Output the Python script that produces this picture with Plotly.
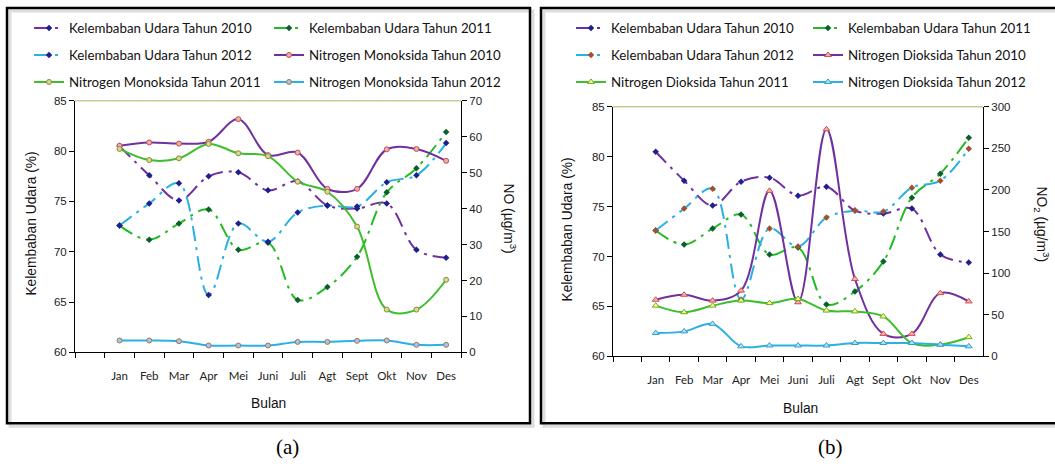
import plotly.graph_objects as go

W, H = 1055, 464

months = ["Jan", "Feb", "Mar", "Apr", "Mei", "Juni", "Juli", "Agt", "Sept", "Okt", "Nov", "Des"]
categories = [" "] + months

# Kelembaban Udara (%)
ku_2010 = [80.5, 77.6, 75.1, 77.5, 77.9, 76.1, 77.0, 74.6, 74.3, 74.8, 70.2, 69.4]
ku_2011 = [72.6, 71.2, 72.8, 74.2, 70.2, 70.9, 65.2, 66.5, 69.5, 75.9, 78.3, 81.9]
ku_2012 = [72.6, 74.8, 76.8, 65.7, 72.8, 71.0, 73.9, 74.6, 74.5, 76.9, 77.6, 80.8]
# NO (ug/m3)
no_2010 = [57.5, 58.4, 58.1, 58.6, 64.9, 54.9, 55.6, 45.5, 45.5, 56.5, 56.6, 53.3]
no_2011 = [56.6, 53.5, 54.0, 58.0, 55.4, 54.6, 47.5, 44.7, 35.0, 11.9, 11.9, 20.2]
no_2012 = [3.3, 3.3, 3.1, 1.9, 1.9, 1.9, 2.9, 2.9, 3.2, 3.3, 2.1, 2.1]
# NO2 (ug/m3)
no2_2010 = [68, 74, 67, 79, 199, 65, 273, 93, 27, 27, 76, 66]
no2_2011 = [61, 53, 61, 67, 64, 69, 55, 54, 48, 16, 14, 23]
no2_2012 = [28, 30, 39, 12, 13, 13, 13, 16, 16, 16, 14, 12]

PURPLE = "#7030A0"
GREEN_D = "#22BB22"
GREEN = "#3DBE2B"
BLUE = "#2BB0E3"

def px(x):
    return x / W

def py(y):
    # vertical layout positions (slightly stretched to match the photographed page)
    yy = (y - 4) / 0.976
    return 1 - yy / H

fig = go.Figure()

def ku_trace(name, y, color, mcolor, xa, ya, legend, group):
    return go.Scatter(
        x=months, y=y, name=name, mode="lines+markers",
        line=dict(color=color, width=2, dash="longdashdot", shape="spline", smoothing=1),
        marker=dict(symbol="diamond", size=5, color=mcolor),
        xaxis=xa, yaxis=ya, legend=legend, legendgroup=group,
    )

def n_trace(name, y, color, msym, mfill, mline, xa, ya, legend, group):
    return go.Scatter(
        x=months, y=y, name=name, mode="lines+markers",
        line=dict(color=color, width=2, shape="spline", smoothing=1),
        marker=dict(symbol=msym, size=6 if msym != "circle" else 5, color=mfill,
                    line=dict(color=mline, width=1)),
        xaxis=xa, yaxis=ya, legend=legend, legendgroup=group,
    )

# Panel (a)
fig.add_trace(ku_trace("Kelembaban Udara Tahun 2010", ku_2010, PURPLE, "#1F1F8F", "x", "y", "legend", "a1"))
fig.add_trace(ku_trace("Kelembaban Udara Tahun 2011", ku_2011, GREEN_D, "#0B5E2E", "x", "y", "legend2", "a2"))
fig.add_trace(ku_trace("Kelembaban Udara Tahun 2012", ku_2012, BLUE, "#1F1F8F", "x", "y", "legend", "a3"))
fig.add_trace(n_trace("Nitrogen Monoksida Tahun 2010", no_2010, PURPLE, "circle", "#E8B0B0", "#C0504D", "x", "y2", "legend2", "a4"))
fig.add_trace(n_trace("Nitrogen Monoksida Tahun 2011", no_2011, GREEN, "circle", "#D8D890", "#8C8C3C", "x", "y2", "legend", "a5"))
fig.add_trace(n_trace("Nitrogen Monoksida Tahun 2012", no_2012, BLUE, "circle", "#C0C0C0", "#7F7F7F", "x", "y2", "legend2", "a6"))

# Panel (b)
fig.add_trace(ku_trace("Kelembaban Udara Tahun 2010", ku_2010, PURPLE, "#1F1F8F", "x2", "y3", "legend3", "b1"))
fig.add_trace(ku_trace("Kelembaban Udara Tahun 2011", ku_2011, GREEN_D, "#0B5E2E", "x2", "y3", "legend4", "b2"))
fig.add_trace(ku_trace("Kelembaban Udara Tahun 2012", ku_2012, BLUE, "#A0522D", "x2", "y3", "legend3", "b3"))
fig.add_trace(n_trace("Nitrogen Dioksida Tahun 2010", no2_2010, PURPLE, "triangle-up", "#F4B0B0", "#D0504D", "x2", "y4", "legend4", "b4"))
fig.add_trace(n_trace("Nitrogen Dioksida Tahun 2011", no2_2011, GREEN, "triangle-up", "#FFFF70", "#6AA83A", "x2", "y4", "legend3", "b5"))
fig.add_trace(n_trace("Nitrogen Dioksida Tahun 2012", no2_2012, BLUE, "triangle-up", "#A8E4F5", "#3A9AC8", "x2", "y4", "legend4", "b6"))

tickfont = dict(family="Liberation Sans", size=11.5, color="#222")
xtickfont = dict(family="Lato", size=11.5, color="#222")

def xaxis_cfg(x0, x1, anchor):
    return dict(domain=[px(x0), px(x1)], anchor=anchor, type="category",
                categoryorder="array", categoryarray=categories, range=[-0.5, 12.5],
                tickson="boundaries", ticks="outside", ticklen=5, tickcolor="black",
                showline=True, linecolor="black", linewidth=1, showgrid=False,
                zeroline=False, tickfont=xtickfont, tickangle=0, ticklabelstandoff=13,
                fixedrange=True)

def yleft_cfg(y_top, y_bot, anchor):
    return dict(domain=[py(y_bot), py(y_top)], anchor=anchor, range=[60, 85], dtick=5,
                ticks="outside", ticklen=5, tickcolor="black", showline=True,
                linecolor="black", linewidth=1, showgrid=False, zeroline=False,
                tickfont=tickfont)

def yright_cfg(over, anchor, rmax, dt):
    return dict(overlaying=over, anchor=anchor, side="right", range=[0, rmax], dtick=dt,
                ticks="outside", ticklen=5, tickcolor="black", showline=True,
                linecolor="black", linewidth=1, showgrid=False, zeroline=False,
                tickfont=tickfont)

leg_common = dict(orientation="v", xanchor="left", yanchor="top", bgcolor="rgba(0,0,0,0)",
                  font=dict(family="Lato", size=13.3, color="#111"), tracegroupgap=6.7,
                  itemwidth=30, borderwidth=0)
LEG_TOP = 1 - 7 / H

fig.update_layout(
    width=W, height=H, margin=dict(l=0, r=0, t=0, b=0),
    paper_bgcolor="white", plot_bgcolor="white", showlegend=True,
    xaxis=xaxis_cfg(75, 461, "y"),
    yaxis=yleft_cfg(99, 351, "x"),
    yaxis2=yright_cfg("y", "x", 70, 10),
    xaxis2=xaxis_cfg(613, 983, "y3"),
    yaxis3=yleft_cfg(105, 355, "x2"),
    yaxis4=yright_cfg("y3", "x2", 300, 50),
    legend=dict(x=px(29), y=LEG_TOP, **leg_common),
    legend2=dict(x=px(269), y=LEG_TOP, **leg_common),
    legend3=dict(x=px(571), y=LEG_TOP, **leg_common),
    legend4=dict(x=px(808), y=LEG_TOP, **leg_common),
)

shapes = []
# frame shadows
for x0, x1 in [(7, 530), (541, 1070)]:
    shapes.append(dict(type="rect", xref="paper", yref="paper", x0=px(x0 + 3), x1=px(x1 + 3),
                       y0=py(422 + 3), y1=py(6 + 3), line=dict(color="#DDDDDD", width=3)))
for x0, x1 in [(7, 530), (541, 1070)]:
    shapes.append(dict(type="rect", xref="paper", yref="paper", x0=px(x0), x1=px(x1),
                       y0=py(422), y1=py(6), line=dict(color="black", width=2.5)))
# top border of plot areas
for xr, yr in [("x domain", "y domain"), ("x2 domain", "y3 domain")]:
    shapes.append(dict(type="line", xref=xr, yref=yr, x0=0, x1=1, y0=1, y1=1,
                       line=dict(color="#B0B060", width=1)))
fig.update_layout(shapes=shapes)

title_font = dict(family="Liberation Sans", size=13.8, color="#111")
ann = [
    dict(text="Kelembaban Udara (%)", x=px(32), y=py(222), textangle=-90, font=title_font),
    dict(text="NO (µg/m<sup>3</sup>)", x=px(510), y=py(217), textangle=90, font=title_font),
    dict(text="Bulan", x=px(268), y=py(402), font=title_font),
    dict(text="Kelembaban Udara (%)", x=px(568), y=py(228), textangle=-90, font=title_font),
    dict(text="NO<sub>2</sub> (µg/m<sup>3</sup>)", x=px(1042), y=py(222), textangle=90, font=title_font),
    dict(text="Bulan", x=px(800), y=py(407), font=title_font),
    dict(text="(a)", x=px(287), y=py(446), font=dict(family="Liberation Serif", size=21, color="black")),
    dict(text="(b)", x=px(830), y=py(446), font=dict(family="Liberation Serif", size=21, color="black")),
]
for a in ann:
    a.update(xref="paper", yref="paper", showarrow=False, xanchor="center", yanchor="middle")
fig.update_layout(annotations=ann)

# remove the default page margin so the figure sits at the window's top-left corner
fig.write_html("out.html", config={"displayModeBar": False},
               post_script="document.body.style.margin='0';document.body.style.overflow='hidden';")
